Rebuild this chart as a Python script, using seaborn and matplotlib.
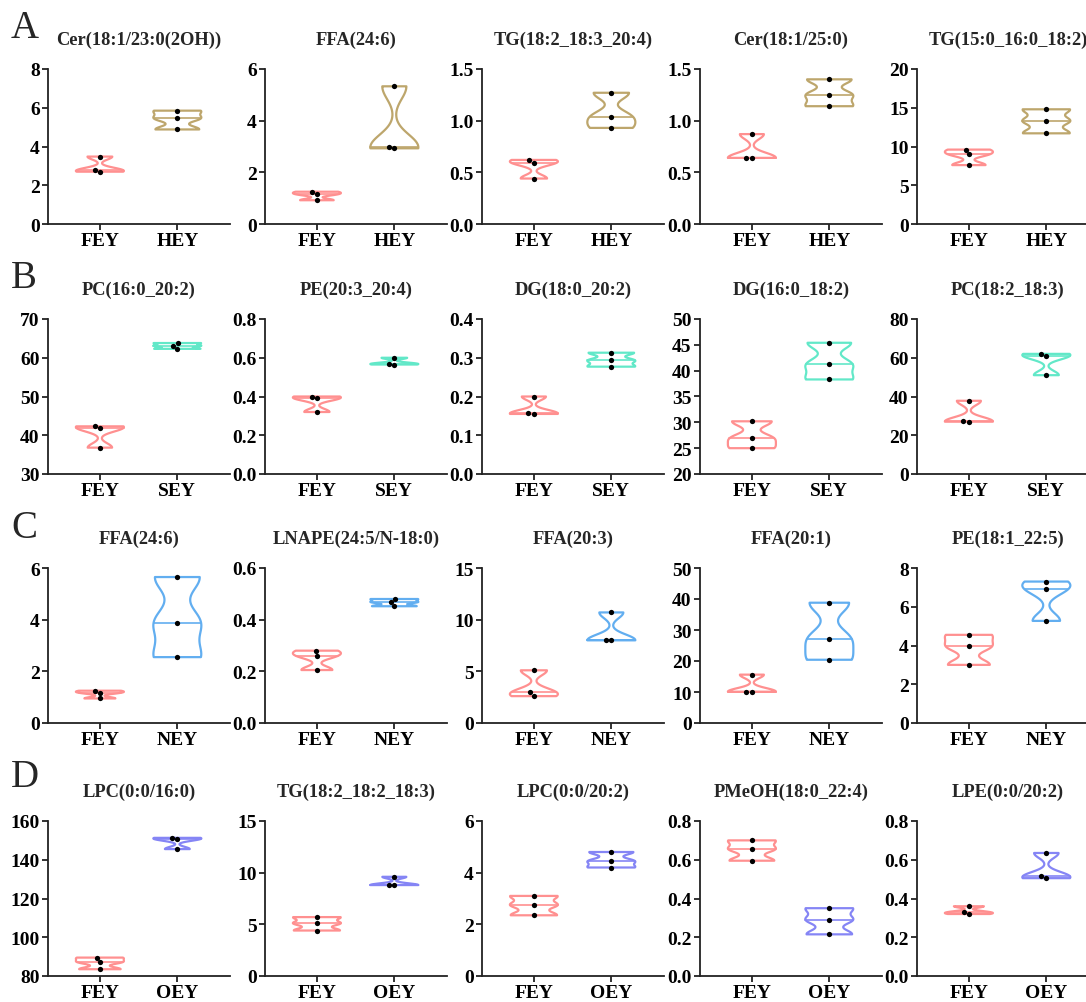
import numpy as np
import pandas as pd
import matplotlib
matplotlib.use("Agg")
import matplotlib.pyplot as plt
import seaborn as sns

# ---- data -------------------------------------------------------------
row_letters = ["A", "B", "C", "D"]
control_group = "FEY"
compare_groups = ["HEY", "SEY", "NEY", "OEY"]

titles = [
    ["Cer(18:1/23:0(2OH))", "FFA(24:6)", "TG(18:2_18:3_20:4)", "Cer(18:1/25:0)", "TG(15:0_16:0_18:2)"],
    ["PC(16:0_20:2)", "PE(20:3_20:4)", "DG(18:0_20:2)", "DG(16:0_18:2)", "PC(18:2_18:3)"],
    ["FFA(24:6)", "LNAPE(24:5/N-18:0)", "FFA(20:3)", "FFA(20:1)", "PE(18:1_22:5)"],
    ["LPC(0:0/16:0)", "TG(18:2_18:2_18:3)", "LPC(0:0/20:2)", "PMeOH(18:0_22:4)", "LPE(0:0/20:2)"],
]

fey_values = [
    [[3.48, 2.70, 2.78], [1.25, 1.15, 0.92], [0.62, 0.59, 0.44], [0.87, 0.64, 0.64], [9.6, 9.0, 7.6]],
    [[42.3, 41.9, 36.8], [0.39, 0.40, 0.32], [0.200, 0.155, 0.157], [30.2, 26.9, 25.0], [37.8, 27.0, 27.2]],
    [[1.25, 1.17, 0.95], [0.28, 0.26, 0.205], [5.1, 3.0, 2.6], [15.6, 10.1, 10.1], [4.55, 3.95, 3.0]],
    [[89.5, 87.2, 83.5], [5.7, 5.1, 4.4], [3.1, 2.75, 2.35], [0.70, 0.655, 0.595], [0.36, 0.32, 0.33]],
]

other_values = [
    [[5.85, 5.45, 4.88], [5.33, 2.93, 3.00], [1.27, 1.04, 0.93], [1.40, 1.25, 1.14], [14.8, 13.3, 11.7]],
    [[63.8, 63.1, 62.3], [0.60, 0.565, 0.57], [0.313, 0.293, 0.277], [45.4, 41.2, 38.3], [62.0, 60.8, 51.0]],
    [[5.65, 3.88, 2.55], [0.48, 0.468, 0.452], [10.7, 8.0, 8.0], [38.8, 27.1, 20.4], [7.3, 6.9, 5.27]],
    [[151.3, 150.7, 145.5], [9.6, 8.8, 8.8], [4.8, 4.45, 4.2], [0.35, 0.29, 0.215], [0.635, 0.505, 0.515]],
]

y_ticks = [
    [[0, 2, 4, 6, 8], [0, 2, 4, 6], [0.0, 0.5, 1.0, 1.5], [0.0, 0.5, 1.0, 1.5], [0, 5, 10, 15, 20]],
    [[30, 40, 50, 60, 70], [0.0, 0.2, 0.4, 0.6, 0.8], [0.0, 0.1, 0.2, 0.3, 0.4], [20, 25, 30, 35, 40, 45, 50], [0, 20, 40, 60, 80]],
    [[0, 2, 4, 6], [0.0, 0.2, 0.4, 0.6], [0, 5, 10, 15], [0, 10, 20, 30, 40, 50], [0, 2, 4, 6, 8]],
    [[80, 100, 120, 140, 160], [0, 5, 10, 15], [0, 2, 4, 6], [0.0, 0.2, 0.4, 0.6, 0.8], [0.0, 0.2, 0.4, 0.6, 0.8]],
]

palette = {
    "FEY": "#FF9090",
    "HEY": "#BDA66C",
    "SEY": "#62E8C8",
    "NEY": "#62AEF0",
    "OEY": "#8585F5",
}

# ---- style ------------------------------------------------------------
sns.set_theme(style="ticks")
plt.rcParams["font.family"] = ["Liberation Serif", "DejaVu Serif"]
plt.rcParams["font.weight"] = "bold"
plt.rcParams["axes.linewidth"] = 1.3
plt.rcParams["xtick.major.width"] = 1.3
plt.rcParams["ytick.major.width"] = 1.3
plt.rcParams["xtick.major.size"] = 4
plt.rcParams["ytick.major.size"] = 4

W, H = 1086, 1003
fig = plt.figure(figsize=(W / 100, H / 100), dpi=100)

col_left = [48, 265, 482, 700, 917]
row_bottom = [225, 475, 724, 977]
ax_w, ax_h = 182, 155
letter_y = [28, 278, 528, 778]


def fmt_tick(v, ticks):
    if all(float(t).is_integer() for t in ticks):
        return f"{int(v)}"
    step = ticks[1] - ticks[0]
    dec = 1 if abs(step * 10 - round(step * 10)) < 1e-9 else 2
    return f"{v:.{dec}f}"


for r in range(4):
    grp = compare_groups[r]
    order = [control_group, grp]
    for c in range(5):
        ax = fig.add_axes([col_left[c] / W, 1 - row_bottom[r] / H, ax_w / W, ax_h / H])
        fey = fey_values[r][c]
        oth = other_values[r][c]
        df = pd.DataFrame({
            "group": [control_group] * len(fey) + [grp] * len(oth),
            "value": fey + oth,
        })
        n_before = len(ax.lines)
        sns.violinplot(data=df, x="group", y="value", hue="group", order=order,
                       hue_order=order, palette=palette, fill=False, cut=0,
                       bw_adjust=0.45, density_norm="width", width=0.62,
                       inner="quart", linewidth=1.6, legend=False, ax=ax)
        # keep only the median line of each violin, drawn solid and thin
        medians = {control_group: float(np.median(fey)), grp: float(np.median(oth))}
        for ln in ax.lines[n_before:]:
            yd = np.asarray(ln.get_ydata(), dtype=float)
            match = [g for g, m in medians.items() if len(yd) and np.isclose(yd[0], m)]
            if match:
                ln.set_linestyle("-")
                ln.set_linewidth(1.2)
                ln.set_color(palette[match[0]])
            else:
                ln.remove()
        sns.swarmplot(data=df, x="group", y="value", order=order, color="black",
                      size=3.8, ax=ax)

        ticks = y_ticks[r][c]
        ax.set_ylim(ticks[0], ticks[-1])
        ax.set_yticks(ticks)
        ax.set_yticklabels([fmt_tick(t, ticks) for t in ticks])
        ax.set_xlim(-0.67, 1.68)
        ax.set_xlabel("")
        ax.set_ylabel("")
        sns.despine(ax=ax)
        ax.spines["left"].set_color("#222222")
        ax.spines["bottom"].set_color("#222222")
        ax.tick_params(axis="both", colors="#222222", labelcolor="black",
                       labelsize=14, pad=2)
        for lab in ax.get_xticklabels() + ax.get_yticklabels():
            lab.set_fontweight("bold")
        ax.set_title(titles[r][c], fontsize=13.3, fontweight="bold", pad=18)

    fig.text(11 / W, 1 - letter_y[r] / H, row_letters[r], fontsize=28,
             fontweight="normal", ha="left", va="center")

fig.savefig("out.png", dpi=100, facecolor="white")
